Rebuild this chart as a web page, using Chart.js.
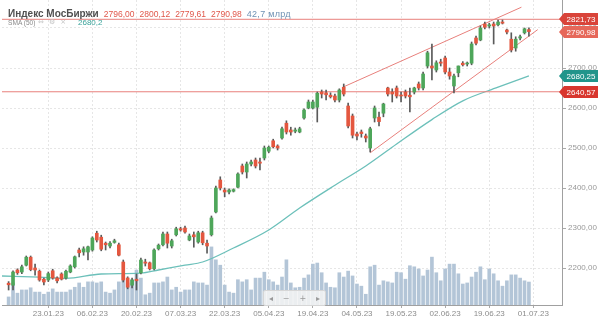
<!DOCTYPE html>
<html><head><meta charset="utf-8">
<script src="https://cdn.jsdelivr.net/npm/chart.js@4.4.0/dist/chart.umd.min.js"></script>
<style>
html,body{margin:0;padding:0;background:#fff;}
#wrap{position:relative;width:600px;height:322px;overflow:hidden;}
#c{position:absolute;left:0;top:0;}
.lg{position:absolute;font-family:"Liberation Sans",Arial,sans-serif;white-space:nowrap;line-height:1;}
#lg1{left:8px;top:9px;font-size:8.5px;color:#555;}
#lg1 b{font-size:10px;color:#505050;margin-right:5px;}
#lg1 .r{color:#e0574a;margin-right:5px;}
#lg1 .v{color:#6f92b4;font-size:9px;letter-spacing:0.3px;}
#lgS{left:8px;top:20px;font-size:6.6px;color:#8a8a8a;}
#lgI{left:38px;top:19px;font-size:7px;color:#c4c4c4;font-family:"DejaVu Sans",sans-serif;}
#lgI span{margin-right:5px;}
#lgV{left:78px;top:19px;font-size:8px;color:#3aa39a;}
#tb{position:absolute;left:263px;top:290px;width:61px;height:14px;border:1px solid #d6d6d6;background:rgba(245,245,245,0.85);border-radius:2px;font-family:"DejaVu Sans",sans-serif;font-size:8px;color:#999;display:flex;justify-content:space-around;align-items:center;}
</style></head>
<body>
<div id="wrap">
<canvas id="c" width="600" height="322"></canvas>
<div id="lg1" class="lg"></div>
<div id="lgS" class="lg">SMA (50)</div>
<div id="lgI" class="lg"><span>⇔</span><span>⚙</span><span>×</span></div>
<div id="lgV" class="lg"></div>
<div id="tb"><span>◂</span><span>−</span><span>+</span><span>▸</span></div>
</div>
<script>
const dates = [
'09.01.23','10.01.23','11.01.23','12.01.23','13.01.23','16.01.23','17.01.23','18.01.23','19.01.23','20.01.23',
'23.01.23','24.01.23','25.01.23','26.01.23','27.01.23','30.01.23','31.01.23','01.02.23','02.02.23','03.02.23',
'06.02.23','07.02.23','08.02.23','09.02.23','10.02.23','13.02.23','14.02.23','15.02.23','16.02.23','17.02.23',
'20.02.23','21.02.23','22.02.23','24.02.23','27.02.23','28.02.23','01.03.23','02.03.23','03.03.23','06.03.23',
'07.03.23','09.03.23','10.03.23','13.03.23','14.03.23','15.03.23','16.03.23','17.03.23','20.03.23','21.03.23',
'22.03.23','23.03.23','24.03.23','27.03.23','28.03.23','29.03.23','30.03.23','31.03.23','03.04.23','04.04.23',
'05.04.23','06.04.23','07.04.23','10.04.23','11.04.23','12.04.23','13.04.23','14.04.23','17.04.23','18.04.23',
'19.04.23','20.04.23','21.04.23','24.04.23','25.04.23','26.04.23','27.04.23','28.04.23','02.05.23','03.05.23',
'04.05.23','05.05.23','08.05.23','10.05.23','11.05.23','12.05.23','15.05.23','16.05.23','17.05.23','18.05.23',
'19.05.23','22.05.23','23.05.23','24.05.23','25.05.23','26.05.23','29.05.23','30.05.23','31.05.23','01.06.23',
'02.06.23','05.06.23','06.06.23','07.06.23','08.06.23','09.06.23','13.06.23','14.06.23','15.06.23','16.06.23',
'19.06.23','20.06.23','21.06.23','22.06.23','23.06.23','26.06.23','27.06.23','28.06.23','29.06.23','30.06.23',
'01.07.23','03.07.23','04.07.23','05.07.23','06.07.23','07.07.23','10.07.23'];

const tickLabels = ['23.01.23','06.02.23','20.02.23','07.03.23','22.03.23','05.04.23','19.04.23','04.05.23','19.05.23','02.06.23','19.06.23','01.07.23'];
const yTicks = [2200,2300,2400,2500,2600,2700,2800];

const opens = [null,
2162,2157,2195,2190,2207,2227,2200,2192,2172,2170,
2193,2175,2185,2175,2190,2203,2245,2240,2240,2245,
2287,2277,2262,2255,2264,2258,2215,2175,2157,2172,
2188,2215,2213,2198,2248,2258,2285,2255,2283,2298,
2300,2270,2283,2265,2288,2262,2283,2340,2420,2395,
2390,2392,2402,2455,2440,2460,2470,2465,2475,2492,
2518,2505,2525,2562,2545,2542,2540,2575,2600,2600,
2602,2640,2638,2632,2630,2620,2652,2605,2580,2535,
2540,2530,2500,2575,2577,2587,2650,2640,2650,2632,
2640,2632,2640,2660,2650,2705,2705,2695,2715,2725,
2690,2655,2688,2712,2710,2712,2775,2770,2810,2805,
2810,2808,2815,2795,2772,2750,2775,2788,2796.00];
const highs = [null,
2166,2193,2198,2207,2230,2230,2210,2195,2175,2190,
2197,2178,2188,2195,2208,2230,2250,2253,2255,2278,
2292,2282,2265,2266,2272,2262,2220,2178,2175,2185,
2225,2222,2215,2248,2260,2290,2290,2272,2302,2302,
2305,2285,2290,2292,2292,2270,2330,2405,2428,2400,
2398,2398,2438,2460,2465,2470,2475,2475,2505,2505,
2522,2508,2552,2568,2552,2550,2552,2598,2620,2620,
2640,2645,2645,2638,2635,2648,2660,2612,2585,2540,
2545,2535,2552,2605,2590,2612,2652,2648,2655,2640,
2645,2650,2652,2665,2690,2742,2760,2718,2722,2730,
2700,2685,2705,2716,2715,2765,2780,2805,2815,2812,
2815,2820,2820,2797,2788,2778,2782,2800,2800.12];
const lows = [null,
2145,2145,2184,2186,2205,2193,2182,2167,2158,2166,
2172,2163,2170,2172,2188,2200,2228,2232,2220,2242,
2265,2243,2245,2250,2262,2230,2165,2148,2150,2145,
2185,2205,2195,2195,2245,2255,2250,2250,2280,2292,
2287,2268,2252,2262,2258,2237,2280,2338,2395,2378,
2385,2390,2400,2435,2425,2455,2450,2445,2470,2488,
2500,2495,2522,2535,2532,2538,2538,2572,2598,2598,
2565,2625,2620,2625,2615,2615,2630,2550,2525,2520,
2527,2515,2490,2565,2555,2578,2630,2615,2625,2615,
2625,2590,2635,2645,2645,2700,2670,2690,2705,2685,
2672,2638,2678,2705,2705,2708,2758,2768,2798,2800,
2760,2805,2810,2785,2740,2742,2770,2785,2779.61];
const closes = [null,
2158,2190,2188,2203,2227,2196,2195,2170,2165,2186,
2175,2168,2172,2192,2205,2228,2238,2248,2253,2275,
2270,2247,2258,2262,2268,2232,2170,2152,2170,2168,
2220,2212,2198,2245,2257,2285,2262,2268,2298,2295,
2290,2280,2278,2288,2263,2255,2325,2400,2400,2390,
2395,2396,2435,2440,2460,2465,2455,2462,2500,2502,
2503,2500,2548,2540,2540,2545,2548,2595,2615,2615,
2637,2635,2633,2628,2620,2645,2635,2555,2532,2530,
2536,2525,2548,2600,2566,2610,2635,2635,2630,2630,
2630,2628,2650,2650,2685,2738,2700,2713,2712,2690,
2680,2680,2705,2708,2712,2760,2762,2800,2802,2808,
2805,2815,2812,2790,2745,2772,2778,2798,2790.98];
// volume, bn RUB
const volumes = [null,
15,41,22,28,28,32,24,24,20,24,
30,24,24,24,28,33,41,33,43,43,
41,43,24,22,28,43,56,41,47,65,
50,19,22,41,41,43,52,28,33,24,
28,28,43,41,41,37,108,84,74,37,
24,22,47,43,47,28,50,50,61,47,
43,37,52,84,41,32,33,50,56,76,
78,60,41,33,32,60,52,63,54,39,
35,20,71,74,37,45,43,41,61,60,
48,73,71,67,54,65,89,60,45,67,
76,76,58,39,41,52,61,71,47,67,
58,45,35,45,56,56,50,45,42.7];

// SMA(50) read at sample positions (bar index)
const smaIdx = [-0.5, 8, 14, 22, 31, 35, 41, 45, 52, 60, 67, 75, 82, 89, 97, 104, 112, 119];
const smaVal = [2180, 2177, 2174, 2185, 2187, 2195, 2207, 2215, 2250, 2295, 2350, 2407, 2455, 2510, 2571, 2618, 2652, 2680.25];

// channel lines (bar index, price)
const upperIdx = [77, 117.3];
const upperVal = [2653, 2852];
const lowerIdx = [83, 121];
const lowerVal = [2488, 2796];
// horizontal levels
const levels = [2821.73, 2640.57];
const tagValues = [2821.73, 2790.98, 2680.25, 2640.57];
const tagColors = ['#d9443a', '#e6685a', '#21958b', '#d8362e'];

const N = dates.length;
const fmt2 = v => v.toFixed(2).replace('.', ',');
const last = closes.length - 1;

document.getElementById('lg1').innerHTML =
  '<b>Индекс МосБиржи</b>' +
  [opens[last], highs[last], lows[last], closes[last]].map(v => '<span class="r">' + fmt2(v) + '</span>').join('') +
  '<span class="v">' + volumes[last].toFixed(1).replace('.', ',') + ' млрд</span>';
document.getElementById('lgV').textContent =
  (Math.floor(smaVal[smaVal.length - 1] * 10) / 10).toFixed(1).replace('.', ',');

const wicks = lows.map((l, i) => l == null ? null : [l, highs[i]]);
const bodies = opens.map((o, i) => o == null ? null : [o, closes[i]]);
const bodyColors = opens.map((o, i) => o == null ? 'rgba(0,0,0,0)' : (closes[i] >= o ? '#4ea65a' : '#e4573f'));
const pts = (xs, ys) => xs.map((x, i) => ({x: x, y: ys[i]}));

Chart.defaults.font.family = '"Liberation Sans", Arial, sans-serif';

const tagPlugin = {
  id: 'tags',
  afterDraw(chart) {
    const c = chart.ctx, y = chart.scales.y;
    tagValues.forEach((v, i) => {
      const py = Math.round(y.getPixelForValue(v));
      c.save();
      c.fillStyle = tagColors[i];
      c.beginPath();
      c.moveTo(559, py);
      c.lineTo(564, py - 6);
      c.lineTo(598, py - 6);
      c.lineTo(598, py + 6);
      c.lineTo(564, py + 6);
      c.closePath();
      c.fill();
      c.fillStyle = '#fff';
      c.font = '8px "Liberation Sans", Arial, sans-serif';
      c.textAlign = 'center';
      c.textBaseline = 'middle';
      c.fillText(fmt2(v), 581, py + 0.5);
      c.restore();
    });
  }
};

const lineDs = (data, color, order, width) => ({
  type: 'line', data: data, xAxisID: 'xl', yAxisID: 'y',
  borderColor: color, borderWidth: width || 1, pointRadius: 0, fill: false, order: order
});

new Chart(document.getElementById('c'), {
  type: 'bar',
  data: {
    labels: dates,
    datasets: [
      {type: 'bar', data: volumes, xAxisID: 'x', yAxisID: 'yv', backgroundColor: '#b3c5d7', barThickness: 3, grouped: false, order: 10},
      Object.assign(lineDs(pts(smaIdx, smaVal), '#6cc0ba', 8, 1.3), {cubicInterpolationMode: 'monotone'}),
      lineDs([{x: -0.5, y: levels[0]}, {x: N - 0.5, y: levels[0]}], '#e8807c', 7),
      lineDs([{x: -0.5, y: levels[1]}, {x: N - 0.5, y: levels[1]}], '#e8807c', 7),
      lineDs(pts(upperIdx, upperVal), '#e8807c', 6),
      lineDs(pts(lowerIdx, lowerVal), '#e8807c', 6),
      {type: 'bar', data: wicks, xAxisID: 'x', yAxisID: 'y', backgroundColor: '#5a5a5a', barThickness: 1, grouped: false, order: 2},
      {type: 'bar', data: bodies, xAxisID: 'x', yAxisID: 'y', backgroundColor: bodyColors, barThickness: 3, grouped: false, minBarLength: 1, order: 1}
    ]
  },
  options: {
    responsive: false, animation: false, events: [],
    layout: {padding: {left: 2, right: 0, top: 0, bottom: 0}},
    plugins: {legend: {display: false}, tooltip: {enabled: false}},
    scales: {
      x: {
        type: 'category', offset: true, position: 'bottom',
        grid: {offset: false, color: '#e6e6e6', tickLength: 3, tickColor: '#aaa'},
        border: {display: true, color: '#a0a0a0', dash: [2, 2]},
        ticks: {autoSkip: false, maxRotation: 0, padding: 1, color: '#8c8c8c', font: {size: 8},
          callback: (v) => dates[v]},
        afterBuildTicks: s => { s.ticks = tickLabels.map(l => ({value: dates.indexOf(l)})); },
        afterFit: s => { s.height = 17; s.paddingLeft = 0; s.paddingRight = 0; }
      },
      xl: {type: 'linear', display: false, offset: false, grid: {offset: false}, min: -0.5, max: N - 0.5},
      y: {
        type: 'linear', position: 'right', min: 2107.5, max: 2870,
        grid: {color: '#e6e6e6', tickLength: 4, tickColor: '#aaa'},
        border: {display: true, color: '#a0a0a0', dash: [2, 2]},
        ticks: {padding: 2, color: '#999', font: {size: 8}, callback: v => fmt2(v)},
        afterBuildTicks: s => { s.ticks = yTicks.map(v => ({value: v})); },
        afterFit: s => { s.width = 38; s.paddingTop = 0; s.paddingBottom = 0; }
      },
      yv: {type: 'linear', display: false, min: 0, max: 567}
    }
  },
  plugins: [tagPlugin]
});
</script>
</body></html>
